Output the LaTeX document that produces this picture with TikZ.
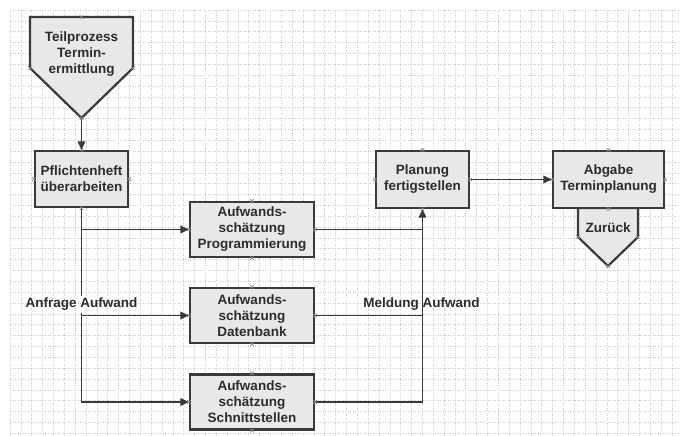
\documentclass[tikz,border=0pt]{standalone}
\usepackage{fontspec}
\setmainfont{Liberation Sans}
\usetikzlibrary{arrows.meta,calc}
\definecolor{boxfill}{HTML}{E8E8E8}
\definecolor{boxline}{HTML}{3A3A3A}
\definecolor{txt}{HTML}{2C2C2C}
\definecolor{gridc}{HTML}{CACACA}
\definecolor{cpc}{HTML}{8A8A8A}
\tikzset{
  cpx/.pic={\draw[cpc,line width=0.6pt] (-1.8,-1.8)--(1.8,1.8) (-1.8,1.8)--(1.8,-1.8);},
  boxtext/.style={text=txt, font=\fontsize{13.5}{16}\selectfont\bfseries, align=center},
  box/.style={boxtext, draw=boxline, line width=2.2pt, fill=boxfill, inner sep=0pt},
  shapeline/.style={draw=boxline, line width=2.2pt, fill=boxfill, line join=miter},
  conn/.style={draw=boxline, line width=1.8pt},
  arr/.style={conn, -{Triangle[length=8.5pt,width=7.5pt]}},
  lbl/.style={boxtext, inner sep=0pt}
}
\begin{document}
\begin{tikzpicture}[x=1pt,y=-1pt]
\useasboundingbox (0,0) rectangle (680,436);
\fill[white] (0,0) rectangle (680,436);
% grid
\foreach \i in {0,...,61} \draw[gridc,line width=0.5pt,dash pattern=on 1pt off 1.5pt] (10+\i*10.85,10) -- (10+\i*10.85,436);
\foreach \j in {0,...,39} \draw[gridc,line width=0.5pt,dash pattern=on 1pt off 1.5pt] (10,10+\j*10.85) -- (680,10+\j*10.85);

% Teilprozess pentagon
\coordinate (tpa) at (30,17);
\coordinate (tpb) at (133,17);
\coordinate (tpc) at (133,68);
\coordinate (tptip) at (81.5,118);
\coordinate (tpe) at (30,68);
\coordinate (tptop) at (81.5,17);
\draw[shapeline] (tpa) -- (tpb) -- (tpc) -- (tptip) -- (tpe) -- cycle;
\node[lbl] (tp) at (81.5,54) {Teilprozess\\Termin-\\ermittlung};

% boxes
\node[box, minimum width=93pt, minimum height=56pt] (pf) at (81.5,179) {Pflichtenheft\\überarbeiten};
\node[box, minimum width=124pt, minimum height=55pt] (ap) at (252,229.5) {Aufwands-\\schätzung\\Programmierung};
\node[box, minimum width=124pt, minimum height=55pt] (ad) at (252,315.5) {Aufwands-\\schätzung\\Datenbank};
\node[box, minimum width=124pt, minimum height=55pt] (as) at (252,402) {Aufwands-\\schätzung\\Schnittstellen};
\node[box, minimum width=93pt, minimum height=57pt] (pl) at (422.5,179.5) {Planung\\fertigstellen};

% Zurueck pentagon
\coordinate (zra) at (578,208);
\coordinate (zrb) at (638,208);
\coordinate (zrc) at (638,237);
\coordinate (zrtip) at (608,266);
\coordinate (zre) at (578,237);
\draw[shapeline] (zra) -- (zrb) -- (zrc) -- (zrtip) -- (zre) -- cycle;
\node[lbl] (zr) at (608,228) {Zurück};
\node[box, minimum width=111pt, minimum height=57pt] (ab) at (608.5,179.5) {Abgabe\\Terminplanung};

% labels
\node[lbl, minimum height=17pt] (anf) at (81.5,304.5) {Anfrage Aufwand};
\node[lbl] (mel) at (421.5,304) {Meldung Aufwand};

% connectors
\draw[arr] (tptip) -- (pf.north);
\draw[conn] (pf.south) -- (anf.north);
\draw[arr] (pf.south |- ap.west) -- (ap.west);
\draw[arr] (anf.south |- ad.west) -- (ad.west);
\draw[arr] (anf.south) |- (as.west);
\draw[conn] (ap.east) -- (ap.east -| pl.south);
\draw[conn] (ad.east) -- (ad.east -| pl.south);
\draw[arr] (as.east) -| (pl.south);
\draw[arr] (pl.east) -- (ab.west);

% connection points
\foreach \p in {tptop,tpc,tptip,tpe,zrc,zrtip,zre} \pic at (\p) {cpx};
\foreach \n in {pf,ap,ad,as,pl,ab} {
  \pic at (\n.north) {cpx};
  \pic at (\n.south) {cpx};
  \pic at (\n.west) {cpx};
  \pic at (\n.east) {cpx};
}
\end{tikzpicture}
\end{document}
